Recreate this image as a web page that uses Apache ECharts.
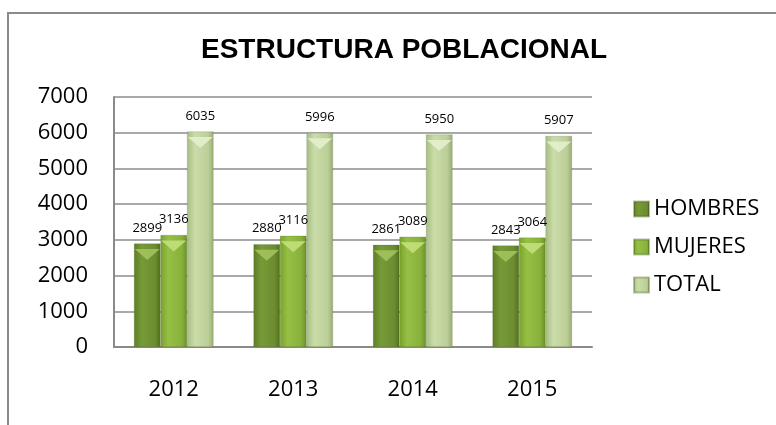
<!DOCTYPE html>
<html>
<head>
<meta charset="utf-8">
<script src="https://cdn.jsdelivr.net/npm/echarts@6/dist/echarts.min.js"></script>
<style>
  html, body { margin: 0; padding: 0; background: #fff; }
  #chart { width: 776px; height: 425px; }
</style>
</head>
<body>
<div id="chart"></div>
<script>
const years = ["2012", "2013", "2014", "2015"];
const hombres = [2899, 2880, 2861, 2843];
const mujeres = [3136, 3116, 3089, 3064];
const total = [6035, 5996, 5950, 5907];
const seriesNames = ["HOMBRES", "MUJERES", "TOTAL"];

function grad(c0, c1, c2, c3) {
  return new echarts.graphic.LinearGradient(0, 0, 1, 0, [
    { offset: 0, color: c0 },
    { offset: 0.3, color: c1 },
    { offset: 0.8, color: c2 },
    { offset: 1, color: c3 },
  ]);
}

const colors = [
  grad("#5e7d25", "#779a38", "#6c8d30", "#51701e"),
  grad("#7ba22d", "#95c045", "#88b13b", "#6a9026"),
  grad("#a7bc84", "#cadca8", "#bccf98", "#98ac74"),
];
const bevel = ["#a3c25c", "#c3e07c", "#e4efcd"];
const dataSets = [hombres, mujeres, total];

const series = [];
dataSets.forEach(function (d, i) {
  series.push({
    name: seriesNames[i],
    type: "bar",
    data: d,
    barWidth: 26.5,
    barGap: "0%",
    itemStyle: { color: colors[i], borderColor: "rgba(60,80,20,0.35)", borderWidth: 0.5 },
    label: {
      show: true,
      position: "top",
      distance: 9,
      color: "#000",
      fontFamily: "Open Sans",
      fontSize: 13,
    },
  });
});
dataSets.forEach(function (d, i) {
  series.push({
    name: seriesNames[i] + "_top",
    type: "pictorialBar",
    data: d,
    barWidth: 26.5,
    barGap: "0%",
    symbol: "triangle",
    symbolRotate: 180,
    symbolSize: [25, 11],
    symbolPosition: "end",
    symbolOffset: [0, "50%"],
    z: 3,
    silent: true,
    itemStyle: { color: bevel[i], opacity: 0.9 },
  });
});

const myChart = echarts.init(document.getElementById("chart"));
myChart.setOption({
  backgroundColor: "#fff",
  animation: false,
  title: {
    text: "ESTRUCTURA POBLACIONAL",
    left: 399,
    textAlign: "center",
    top: 31,
    textStyle: {
      fontFamily: "Liberation Sans",
      fontWeight: "bold",
      fontSize: 28,
      color: "#000",
    },
  },
  graphic: [{
    type: "rect",
    shape: { x: 8, y: 13, width: 820, height: 460 },
    style: { fill: "none", stroke: "#8a8a8a", lineWidth: 2 },
    silent: true,
  }],
  legend: {
    data: seriesNames,
    orient: "vertical",
    left: 628,
    top: 193,
    itemWidth: 15,
    itemHeight: 15,
    itemGap: 16,
    icon: "rect",
    textStyle: { fontFamily: "Open Sans", fontSize: 22, color: "#000" },
  },
  grid: { left: 114, right: 184, top: 97, bottom: 78, containLabel: false },
  xAxis: {
    type: "category",
    data: years,
    axisLine: { show: true, lineStyle: { color: "#8a8a8a", width: 2 } },
    axisTick: { show: false },
    axisLabel: { color: "#000", fontFamily: "Open Sans", fontSize: 22, margin: 32 },
  },
  yAxis: {
    type: "value",
    min: 0,
    max: 7000,
    interval: 1000,
    axisLine: { show: true, lineStyle: { color: "#8a8a8a", width: 2 } },
    axisTick: { show: false },
    axisLabel: {
      color: "#000",
      fontFamily: "Open Sans",
      fontSize: 22,
      margin: 26,
      formatter: function (v) { return String(v); },
    },
    splitLine: { show: true, lineStyle: { color: "#8c8c8c", width: 1.5 } },
  },
  series: series,
});
window.onresize = function () {
  myChart.resize();
};
</script>
</body>
</html>
